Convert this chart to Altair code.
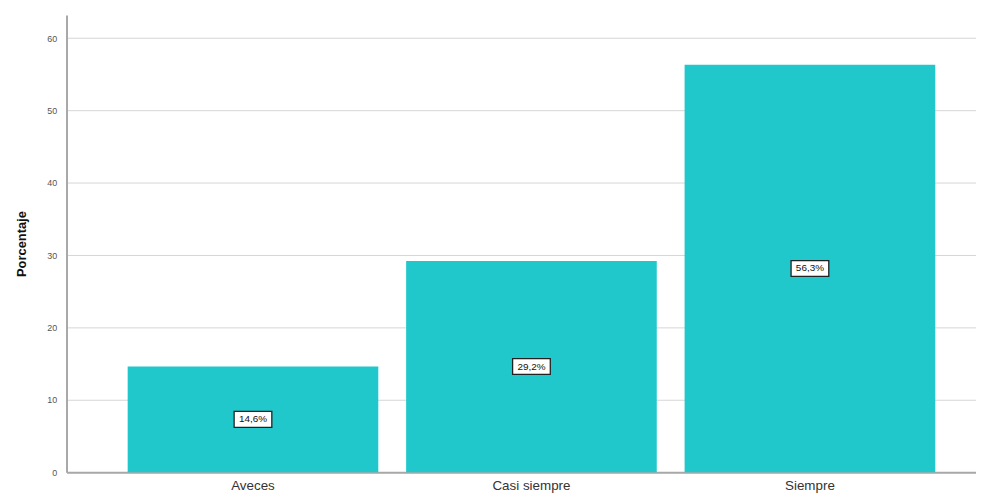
import altair as alt
import pandas as pd

categories = ["Aveces", "Casi siempre", "Siempre"]
values = [14.6, 29.2, 56.3]
labels = ["14,6%", "29,2%", "56,3%"]
y_ticks = [0, 10, 20, 30, 40, 50, 60]

df = pd.DataFrame({"cat": categories, "val": values, "lab": labels})
df["mid"] = df["val"] / 2

x_enc = alt.X(
    "cat:N",
    sort=categories,
    title=None,
    scale=alt.Scale(paddingInner=0.1, paddingOuter=0.183, align=0.6),
    axis=alt.Axis(
        labelAngle=0,
        labelFontSize=13.5,
        labelFont="Liberation Sans Narrow, Arial Narrow, Liberation Sans, sans-serif",
        labelColor="#333333",
        labelPadding=6,
        ticks=False,
        domainColor="#a8a8a8",
        domainWidth=2,
        grid=False,
    ),
)

y_scale = alt.Scale(domain=[0, 63.2], nice=False)

bars = alt.Chart(df).mark_bar(color="#20c8cc").encode(
    x=x_enc,
    y=alt.Y(
        "val:Q",
        scale=y_scale,
        title="Porcentaje",
        axis=alt.Axis(
            values=y_ticks,
            labelFontSize=9,
            labelColor="#555555",
            labelFont="Liberation Sans, Arial, sans-serif",
            labelPadding=10,
            ticks=False,
            domainColor="#a8a8a8",
            domainWidth=2,
            gridColor="#d6d6d6",
            gridWidth=1,
            titleFontSize=13,
            titleFont="Liberation Sans, Arial, sans-serif",
            titleFontWeight="bold",
            titleColor="#111111",
            titlePadding=18,
        ),
    ),
)

boxes = alt.Chart(df).mark_point(
    shape="M-1,-0.42L1,-0.42L1,0.42L-1,0.42Z",
    filled=True,
    fill="white",
    stroke="#222222",
    strokeWidth=1.3,
    opacity=1,
    size=1444,
).encode(
    x=alt.X("cat:N", sort=categories),
    y=alt.Y("mid:Q", scale=y_scale),
)

texts = alt.Chart(df).mark_text(
    fontSize=10,
    font="Liberation Sans, Arial, sans-serif",
    color="#111111",
).encode(
    x=alt.X("cat:N", sort=categories),
    y=alt.Y("mid:Q", scale=y_scale),
    text="lab:N",
)

chart = (
    alt.layer(bars, boxes, texts)
    .properties(
        width=917,
        height=461,
        autosize=alt.AutoSizeParams(type="none"),
        padding={"left": 59, "top": 5, "right": 0, "bottom": 20},
    )
    .configure_view(stroke=None)
)

chart.save("out.html", embed_options={"renderer": "svg", "actions": False})
